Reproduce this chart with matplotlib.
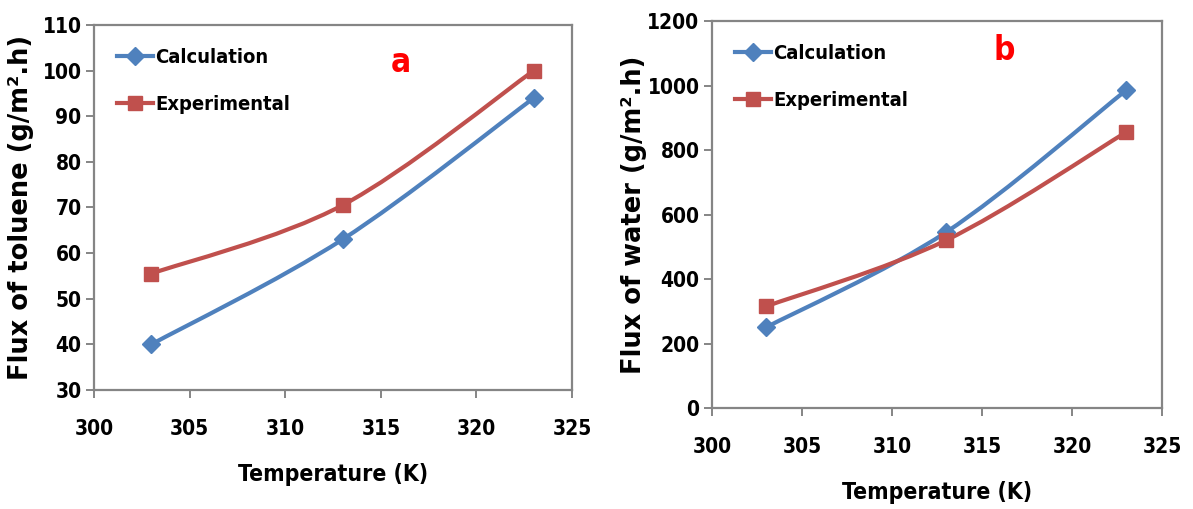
import numpy as np
import matplotlib
matplotlib.use("Agg")
import matplotlib.pyplot as plt
from matplotlib.path import Path
from matplotlib.patches import PathPatch
from matplotlib.lines import Line2D
from matplotlib import font_manager

temperature = [303, 313, 323]

toluene_calc = [40, 63, 94]
toluene_exp = [55.5, 70.5, 100]

water_calc = [250, 545, 985]
water_exp = [315, 520, 855]

BLUE = "#4F81BD"
RED = "#C0504D"
AXIS_GRAY = "#858585"
NARROW = {"family": "DejaVu Sans", "stretch": "condensed", "weight": "bold"}


def narrow_font(size):
    return font_manager.FontProperties(size=size, **NARROW)


def smooth_path(x, y):
    # Excel-style smoothed line: cubic Bezier through each point
    pts = np.column_stack([x, y]).astype(float)
    n = len(pts)
    verts = [pts[0]]
    codes = [Path.MOVETO]
    for i in range(n - 1):
        p_prev = pts[max(i - 1, 0)]
        p0 = pts[i]
        p1 = pts[i + 1]
        p_next = pts[min(i + 2, n - 1)]
        c1 = p0 + (p1 - p_prev) / 6.0
        c2 = p1 - (p_next - p0) / 6.0
        verts += [c1, c2, p1]
        codes += [Path.CURVE4] * 3
    return Path(verts, codes)


def draw_series(ax, x, y, color, marker, ms):
    ax.add_patch(PathPatch(smooth_path(x, y), facecolor="none",
                           edgecolor=color, lw=3, zorder=3))
    ax.plot(x, y, linestyle="none", marker=marker, ms=ms, color=color,
            zorder=4)


def style_axes(ax, ylabel, ylim, yticks, ylabel_x):
    ax.set_xlim(300, 325)
    ax.set_ylim(*ylim)
    ax.set_xticks(np.arange(300, 326, 5))
    ax.set_yticks(yticks)
    for s in ax.spines.values():
        s.set_color(AXIS_GRAY)
        s.set_linewidth(1.6)
    ax.tick_params(direction="out", length=6, width=1.4, color=AXIS_GRAY)
    ax.tick_params(axis="x", pad=15)
    ax.tick_params(axis="y", pad=3)
    for lab in ax.get_xticklabels() + ax.get_yticklabels():
        lab.set_fontproperties(narrow_font(15))
    ax.set_xlabel("Temperature (K)", fontproperties=narrow_font(16.5),
                  labelpad=17)
    ax.set_ylabel(ylabel, family="DejaVu Sans", fontweight="bold",
                  fontsize=18.5)
    ax.yaxis.set_label_coords(ylabel_x, 0.5)
    handles = [
        Line2D([], [], color=BLUE, lw=3, marker="D", ms=9),
        Line2D([], [], color=RED, lw=3, marker="s", ms=10),
    ]
    ax.legend(handles, ["Calculation", "Experimental"], loc="upper left",
              frameon=False, handlelength=1.8, handletextpad=0.1,
              labelspacing=1.4, borderaxespad=0.75,
              prop=narrow_font(14.5))


fig = plt.figure(figsize=(11.93, 5.09), dpi=100)

ax_a = fig.add_axes([0.0788, 0.2338, 0.4007, 0.7172])
draw_series(ax_a, temperature, toluene_calc, BLUE, "D", 9)
draw_series(ax_a, temperature, toluene_exp, RED, "s", 10)
style_axes(ax_a, "Flux of toluene (g/m\u00b2.h)", (30, 110),
           np.arange(30, 111, 10), -0.125)
ax_a.text(0.62, 0.87, "a", transform=ax_a.transAxes, color="red",
          fontsize=24, **NARROW)

ax_b = fig.add_axes([0.5968, 0.1984, 0.3772, 0.7603])
draw_series(ax_b, temperature, water_calc, BLUE, "D", 9)
draw_series(ax_b, temperature, water_exp, RED, "s", 10)
style_axes(ax_b, "Flux of water (g/m\u00b2.h)", (0, 1200),
           np.arange(0, 1201, 200), -0.145)
ax_b.text(0.625, 0.9, "b", transform=ax_b.transAxes, color="red",
          fontsize=24, **NARROW)

fig.savefig("out.png", dpi=100)
